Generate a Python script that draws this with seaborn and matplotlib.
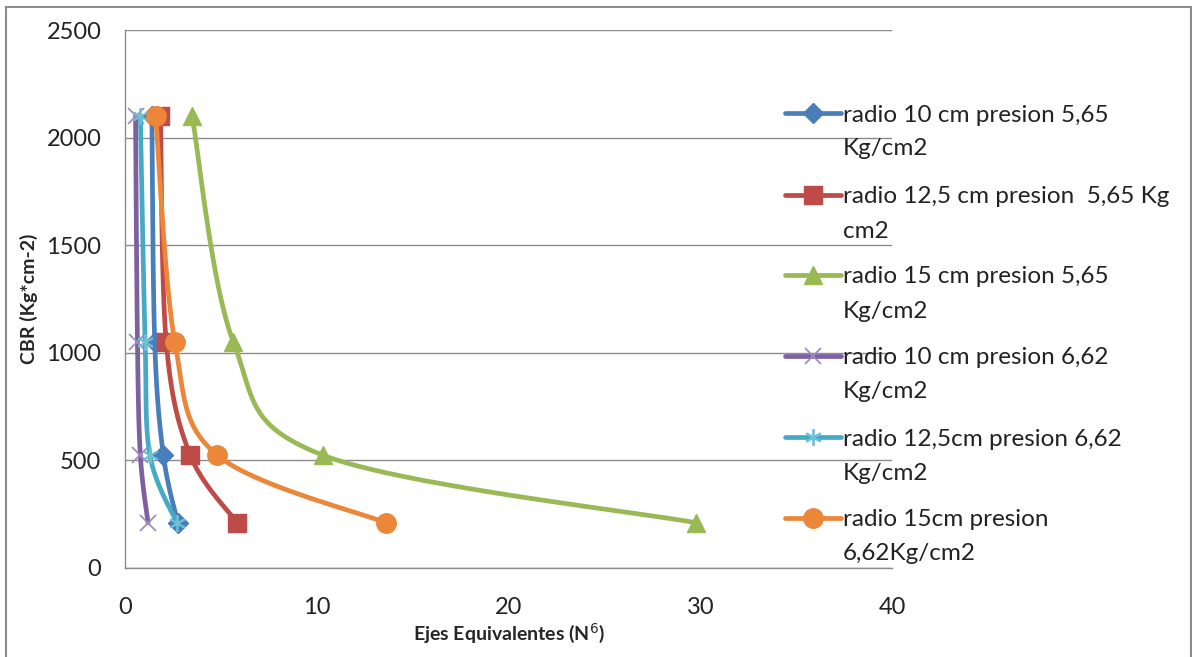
import numpy as np
import pandas as pd
import matplotlib
matplotlib.use("Agg")
import matplotlib.pyplot as plt
from matplotlib.lines import Line2D
from matplotlib.patches import Rectangle
import seaborn as sns

# ---- data ----
cbr = [2100, 1050, 525, 210]
labels = [
    "radio 10 cm presion 5,65\nKg/cm2",
    "radio 12,5 cm presion  5,65 Kg\ncm2",
    "radio 15 cm presion 5,65\nKg/cm2",
    "radio 10 cm presion 6,62\nKg/cm2",
    "radio 12,5cm presion 6,62\nKg/cm2",
    "radio 15cm presion\n6,62Kg/cm2",
]
ejes_r10_565 = [1.4, 1.55, 2.0, 2.75]
ejes_r125_565 = [1.85, 2.15, 3.4, 5.85]
ejes_r15_565 = [3.5, 5.65, 10.3, 29.8]
ejes_r10_662 = [0.55, 0.65, 0.8, 1.2]
ejes_r125_662 = [0.8, 1.05, 1.3, 2.7]
ejes_r15_662 = [1.6, 2.6, 4.8, 13.6]
series = [ejes_r10_565, ejes_r125_565, ejes_r15_565,
          ejes_r10_662, ejes_r125_662, ejes_r15_662]

colors = ["#4A7EBB", "#BE4B48", "#98B954", "#7D60A0", "#46AAC5", "#EC8638"]
mcolors = ["#4A7EBB", "#BE4B48", "#98B954", "#A08CC0", "#6CC0D8", "#EC8638"]
markers = ["D", "s", "^", "x", (6, 2, 0), "o"]
msizes = [10, 13, 13, 12, 12, 14]
mews = [1, 1, 1, 1.3, 1.3, 1]

sns.set_theme(style="white")
plt.rcParams["font.family"] = ["Lato", "DejaVu Sans"]

W, H = 1192, 657
fig = plt.figure(figsize=(W / 100, H / 100), dpi=100)
ax = fig.add_axes([125 / W, 89 / H, (892 - 125) / W, (568 - 30) / H])


def smooth(xs, ys, n=40):
    # Bezier smoothing (Excel-like smoothed line) computed in normalized axis space
    sx, sy = 1 / 40.0, 1 / 2500.0
    P = np.column_stack([np.array(xs) * sx, np.array(ys) * sy])
    out = []
    m = len(P)
    for i in range(m - 1):
        p0 = P[i - 1] if i > 0 else P[i]
        p1, p2 = P[i], P[i + 1]
        p3 = P[i + 2] if i + 2 < m else P[i + 1]
        c1 = p1 + (p2 - p0) / 6.0
        c2 = p2 - (p3 - p1) / 6.0
        t = np.linspace(0, 1, n)[:, None]
        seg = ((1 - t) ** 3) * p1 + 3 * ((1 - t) ** 2) * t * c1 + 3 * (1 - t) * t ** 2 * c2 + t ** 3 * p2
        out.append(seg if i == 0 else seg[1:])
    S = np.vstack(out)
    return S[:, 0] / sx, S[:, 1] / sy


for i, xs in enumerate(series):
    cx, cy = smooth(xs, cbr)
    df = pd.DataFrame({"x": cx, "y": cy})
    sns.lineplot(data=df, x="x", y="y", sort=False, estimator=None, ax=ax,
                 color=colors[i], linewidth=3.4, zorder=3 + i, legend=False)
    ax.plot(xs, cbr, linestyle="none", marker=markers[i], markersize=msizes[i],
            color=mcolors[i], markeredgecolor=mcolors[i], markeredgewidth=mews[i],
            zorder=3 + i)

ax.set_xlim(0, 40)
ax.set_ylim(0, 2500)
ax.set_xticks([0, 10, 20, 30, 40])
ax.set_yticks([0, 500, 1000, 1500, 2000, 2500])
ax.yaxis.grid(True, color="#8C8C8C", linewidth=1)
ax.xaxis.grid(False)
for s in ["top", "right"]:
    ax.spines[s].set_visible(False)
for s in ["left", "bottom"]:
    ax.spines[s].set_color("#8C8C8C")
    ax.spines[s].set_linewidth(1)
ax.tick_params(axis="both", which="major", direction="out", length=7, width=1,
               color="#8C8C8C", labelsize=17, labelcolor="#222222", pad=10)
ax.tick_params(axis="x", pad=14)
ax.set_xlabel("Ejes Equivalentes (N$^6$)", fontsize=14, fontweight="bold", labelpad=2)
ax.set_ylabel("CBR (Kg*cm-2)", fontsize=14, fontweight="bold", labelpad=6)

# ---- legend (first line of each label aligned with its handle, as in Excel) ----
leg_top = [113, 195, 275, 356, 437, 518]
for i, lab in enumerate(labels):
    yy = 1 - leg_top[i] / H
    fig.add_artist(Line2D([785 / W, 841 / W], [yy, yy], transform=fig.transFigure,
                          color=colors[i], linewidth=3.4))
    fig.add_artist(Line2D([813 / W], [yy], transform=fig.transFigure, linestyle="none",
                          marker=markers[i], markersize=msizes[i], color=mcolors[i],
                          markeredgecolor=mcolors[i], markeredgewidth=mews[i]))
    lines = lab.split("\n")
    for k, ln in enumerate(lines):
        fig.text(843 / W, 1 - (leg_top[i] + 34 * k) / H, ln, fontsize=17.5,
                 color="#222222", va="center_baseline", ha="left")

fig.patches.append(Rectangle((6 / W, -0.02), 1185 / W, 1.02 - 7 / H, transform=fig.transFigure,
                             fill=False, edgecolor="#8C8C8C", linewidth=1.5))

fig.savefig("out.png", dpi=100)
